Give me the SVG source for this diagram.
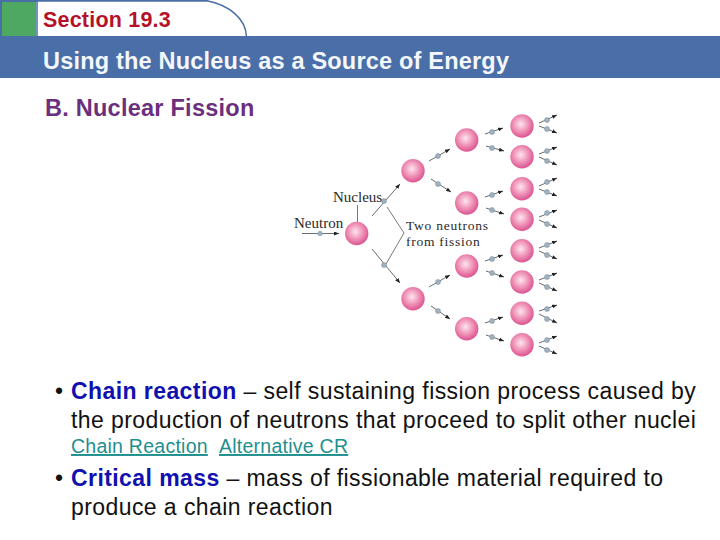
<svg xmlns="http://www.w3.org/2000/svg" width="720" height="540" viewBox="0 0 720 540">
<style>
text{font-family:"Liberation Sans",Arial,sans-serif}
.s{font-family:"Liberation Serif","Times New Roman",serif;font-size:15px;fill:#2a2a2a}
.f{font-size:13.500px;letter-spacing:.75px}
.b{font-size:23px;letter-spacing:.42px;fill:#111}
.k{font-weight:bold;fill:#1010b0}
.l{font-size:19.500px;letter-spacing:.25px;fill:#1f8f8f;text-decoration:underline}
.a{fill:none;stroke:#444;stroke-width:.8;marker-end:url(#h)}
.t{fill:none;stroke:#555;stroke-width:.8}
.n{fill:#9fb2c2;stroke:#7a8a98;stroke-width:.5}
.c{fill:url(#g)}
</style>
<defs>
<radialGradient id="g" cx=".45" cy=".42" r=".62">
<stop offset="0" stop-color="#fde6ee"/><stop offset=".5" stop-color="#f095b9"/><stop offset="1" stop-color="#d84a8a"/>
</radialGradient>
<marker id="h" markerWidth="5" markerHeight="4" refX="5" refY="2" orient="auto" markerUnits="userSpaceOnUse"><path d="M0 0L5 2L0 4Z" fill="#222"/></marker>
</defs>
<g id="header">
<rect x="0" y="0" width="208" height="2" fill="#4a6fa8"/>
<rect x="0" y="0" width="2" height="37" fill="#4a6fa8"/>
<path d="M37 1H208C228 5 246 18 246.500 37H37Z" fill="#fff" stroke="#4a6fa8" stroke-width="1.500"/>
<rect x="2" y="2" width="34" height="34" fill="#4fa862"/>
<rect x="0" y="36" width="720" height="42" fill="#4a6fa8"/>
<text x="43" y="27" font-size="21.500" letter-spacing=".2" font-weight="bold" fill="#b5122a">Section 19.3</text>
<text x="43" y="69" font-size="23.500" letter-spacing=".2" font-weight="bold" fill="#f4f7fb">Using the Nucleus as a Source of Energy</text>
</g>
<text x="45" y="116" font-size="23.500" letter-spacing=".25" font-weight="bold" fill="#6b2f7e">B. Nuclear Fission</text>
<g id="connectors">
<path class="a" d="M302 233.500H339"/>
<path class="t" d="M357.500 222V205"/>
<path class="a" d="M372 216L400 184"/>
<path class="a" d="M372 249L400 283"/>
<path class="t" d="M387 207L404 233L386 264"/>
<path class="a" d="M429 161L450 149"/><path class="a" d="M431 179L451 192"/>
<path class="a" d="M429 287L450 275"/><path class="a" d="M431 306L450 319"/>
<path class="a" d="M485 134L503 128"/><path class="a" d="M486 146L504 151"/>
<path class="a" d="M485 197L503 191"/><path class="a" d="M486 208L504 214"/>
<path class="a" d="M485 261L503 255"/><path class="a" d="M486 271L504 277"/>
<path class="a" d="M485 323L503 317"/><path class="a" d="M486 335L504 341"/>
<path class="a" d="M539 123L557 115"/><path class="a" d="M539 126L557 133"/>
<path class="a" d="M539 154L557 147"/><path class="a" d="M539 157L557 165"/>
<path class="a" d="M539 186L557 178"/><path class="a" d="M539 189L557 196"/>
<path class="a" d="M539 217L557 210"/><path class="a" d="M539 220L557 228"/>
<path class="a" d="M539 248L557 241"/><path class="a" d="M539 251L557 259"/>
<path class="a" d="M539 280L557 273"/><path class="a" d="M539 283L557 291"/>
<path class="a" d="M539 311L557 305"/><path class="a" d="M539 314L557 323"/>
<path class="a" d="M539 343L557 336"/><path class="a" d="M539 346L557 354"/>
</g>
<g id="neutrons">
<circle class="n" cx="320" cy="233.500" r="2.300"/><circle class="n" cx="384" cy="201" r="2.500"/><circle class="n" cx="384" cy="265" r="2.500"/>
<circle class="n" cx="438" cy="156" r="2.500"/><circle class="n" cx="438" cy="184" r="2.500"/>
<circle class="n" cx="438" cy="282" r="2.500"/><circle class="n" cx="438" cy="311" r="2.500"/>
<circle class="n" cx="492" cy="132" r="2.500"/><circle class="n" cx="492" cy="148" r="2.500"/>
<circle class="n" cx="492" cy="195" r="2.500"/><circle class="n" cx="492" cy="210" r="2.500"/>
<circle class="n" cx="492" cy="259" r="2.500"/><circle class="n" cx="492" cy="273" r="2.500"/>
<circle class="n" cx="492" cy="321" r="2.500"/><circle class="n" cx="492" cy="337" r="2.500"/>
<circle class="n" cx="547" cy="120" r="2.500"/><circle class="n" cx="547" cy="129" r="2.500"/>
<circle class="n" cx="547" cy="151" r="2.500"/><circle class="n" cx="547" cy="161" r="2.500"/>
<circle class="n" cx="547" cy="182" r="2.500"/><circle class="n" cx="547" cy="192" r="2.500"/>
<circle class="n" cx="547" cy="213" r="2.500"/><circle class="n" cx="547" cy="224" r="2.500"/>
<circle class="n" cx="547" cy="245" r="2.500"/><circle class="n" cx="547" cy="255" r="2.500"/>
<circle class="n" cx="547" cy="277" r="2.500"/><circle class="n" cx="547" cy="287" r="2.500"/>
<circle class="n" cx="547" cy="309" r="2.500"/><circle class="n" cx="547" cy="319" r="2.500"/>
<circle class="n" cx="547" cy="340" r="2.500"/><circle class="n" cx="547" cy="350" r="2.500"/>
</g>
<g id="nucleus-root"><circle class="c" cx="356.700" cy="233.500" r="11.700"/></g>
<g id="nucleus-2a"><circle class="c" cx="413" cy="170.700" r="11.700"/></g>
<g id="nucleus-2b"><circle class="c" cx="413" cy="298.700" r="11.700"/></g>
<g id="nucleus-3a"><circle class="c" cx="466.700" cy="140" r="11.700"/></g>
<g id="nucleus-3b"><circle class="c" cx="466.700" cy="203" r="11.700"/></g>
<g id="nucleus-3c"><circle class="c" cx="466.700" cy="266" r="11.700"/></g>
<g id="nucleus-3d"><circle class="c" cx="466.700" cy="328.700" r="11.700"/></g>
<g id="nucleus-4a"><circle class="c" cx="522" cy="126" r="11.700"/></g>
<g id="nucleus-4b"><circle class="c" cx="522" cy="156.700" r="11.700"/></g>
<g id="nucleus-4c"><circle class="c" cx="522" cy="188.700" r="11.700"/></g>
<g id="nucleus-4d"><circle class="c" cx="522" cy="219.300" r="11.700"/></g>
<g id="nucleus-4e"><circle class="c" cx="522" cy="250.700" r="11.700"/></g>
<g id="nucleus-4f"><circle class="c" cx="522" cy="282" r="11.700"/></g>
<g id="nucleus-4g"><circle class="c" cx="522" cy="313.300" r="11.700"/></g>
<g id="nucleus-4h"><circle class="c" cx="522" cy="344.700" r="11.700"/></g>
<g id="labels">
<text class="s" x="333" y="202">Nucleus</text>
<text class="s" x="294" y="228">Neutron</text>
<text class="s f" x="406" y="230">Two neutrons</text>
<text class="s f" x="406" y="245.500">from fission</text>
</g>
<g id="text">
<text class="b" x="55" y="399">•</text>
<text class="b" x="71" y="399"><tspan class="k">Chain reaction</tspan> – self sustaining fission process caused by</text>
<text class="b" x="71" y="428">the production of neutrons that proceed to split other nuclei</text>
<text class="l" x="71" y="453">Chain Reaction</text>
<text class="l" x="219" y="453">Alternative CR</text>
<text class="b" x="55" y="486">•</text>
<text class="b" x="71" y="486"><tspan class="k">Critical mass</tspan> – mass of fissionable material required to</text>
<text class="b" x="71" y="515">produce a chain reaction</text>
</g>
</svg>
